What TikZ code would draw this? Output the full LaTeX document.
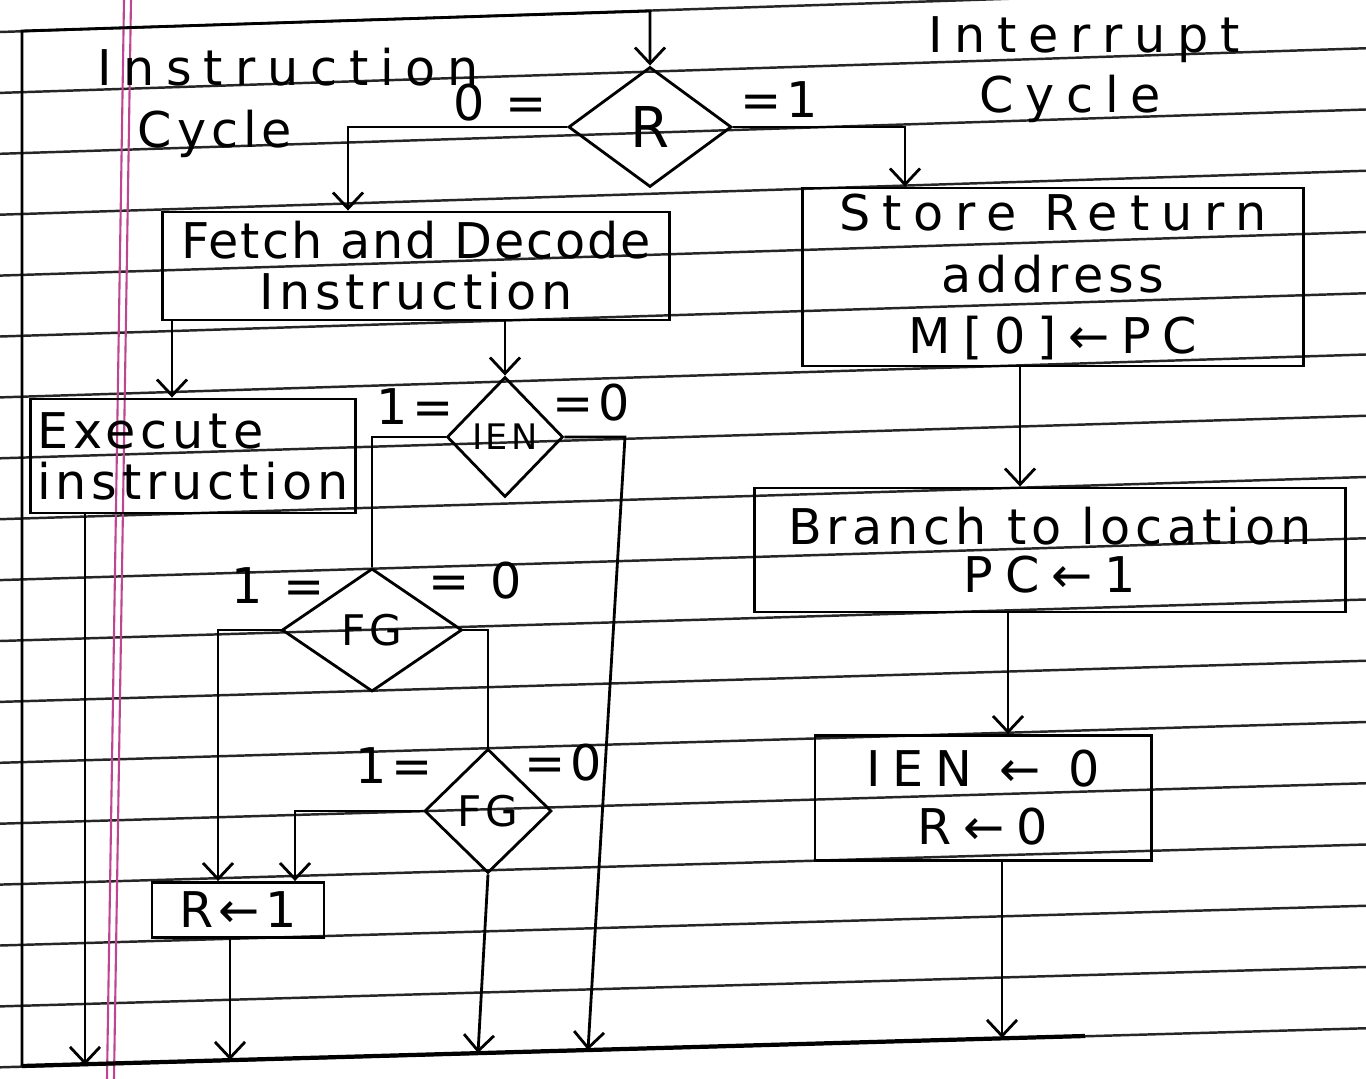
\documentclass[tikz,border=0pt]{standalone}
\usepackage{fontspec}
\usetikzlibrary{shapes.geometric,arrows.meta}
\newfontfamily\hand[LetterSpace=10]{DejaVu Sans}
\newfontfamily\handw[LetterSpace=24]{DejaVu Sans}
\newfontfamily\handn[LetterSpace=4]{DejaVu Sans}
\definecolor{margin}{RGB}{190,70,145}
\begin{document}
\begin{tikzpicture}[x=0.01cm,y=-0.01cm,
  rule/.style={black!85,line width=0.7pt},
  pen/.style={line width=0.8pt},
  arr/.style={pen,-{Straight Barb[length=1.6mm,width=3mm]}},
  box/.style={draw,pen,rectangle,align=center,inner sep=1pt,font=\hand\fontsize{14}{17.5}\selectfont},
  dec/.style={draw,pen,diamond,inner sep=0pt,font=\hand\fontsize{12}{14}\selectfont},
  lbl/.style={inner sep=0pt,anchor=base,font=\hand\fontsize{14}{17}\selectfont},
  wide/.style={font=\handw\fontsize{14}{17}\selectfont}]
\useasboundingbox (0,0) rectangle (1366,1079);
\fill[white] (0,0) rectangle (1366,1079);
\foreach \i in {0,...,17}
  \draw[rule] (0,{32+60.9*\i}) -- (1366,{32+60.9*\i-45+0.35*\i});
\draw[margin,line width=0.6pt] (124,0) -- (107,1079);
\draw[margin,line width=0.6pt] (131,0) -- (114,1079);

\node[lbl,wide] (tinstr) at (288,86) {Instruction};
\node[lbl] (tcycl) at (215,148) {Cycle};
\node[lbl,wide] (tintr) at (1084,53) {Interrupt};
\node[lbl,wide] (tcycr) at (1070,113) {Cycle};

\node[dec,minimum width=1.63cm,minimum height=1.2cm,font=\hand\fontsize{16}{18}\selectfont] (R) at (650,127) {R};
\node[dec,minimum width=1.16cm,minimum height=1.2cm,font=\hand\fontsize{10}{12}\selectfont] (ien) at (505,437) {IEN};
\node[dec,minimum width=1.8cm,minimum height=1.23cm] (fg1) at (372,630) {FG};
\node[dec,minimum width=1.27cm,minimum height=1.24cm] (fg2) at (488,811) {FG};

\node[box,minimum width=5.07cm,minimum height=1.08cm] (fetch) at (416,266) {{\handn Fetch and Decode}\\[-3pt]Instruction};
\node[box,minimum width=5.0cm,minimum height=1.78cm,font=\handw\fontsize{14}{17.5}\selectfont] (store) at (1053,277) {Store Return\\{\hand address}\\M[0]←PC};
\node[box,minimum width=3.25cm,minimum height=1.14cm,align=left] (exec) at (193,456) {Execute\\[-3pt]instruction};
\node[box,minimum width=5.9cm,minimum height=1.24cm] (branch) at (1050,550) {Branch to location\\[-4pt]{\handw PC←1}};
\node[box,minimum width=3.36cm,minimum height=1.25cm,font=\handw\fontsize{14}{17.5}\selectfont] (ienbox) at (983,798) {IEN ← 0\\[-1pt]R←0};
\node[box,minimum width=1.72cm,minimum height=0.55cm] (rset) at (238,910) {R←1};

\node[lbl] (r0) at (500,121) {0 =};
\node[lbl] (r1) at (779,118) {=1};
\node[lbl] (i1) at (415,425) {1=};
\node[lbl] (i0) at (591,420) {=0};
\node[lbl] (f1a) at (278,603) {1 =};
\node[lbl] (f1b) at (475,598) {= 0};
\node[lbl] (f2a) at (394,783) {1=};
\node[lbl] (f2b) at (563,780) {=0};

\coordinate (lpB) at (22,1066);
\coordinate (lpT) at (22,31);
\coordinate (lpR) at (650,11);
\coordinate (cR) at (1085,1036);
\coordinate (c1) at (85,1065);
\coordinate (c2) at (230,1060);
\coordinate (c3) at (478,1053);
\coordinate (c4) at (588,1050);
\coordinate (c5) at (1002,1038);
\coordinate (rl) at (348,0);
\coordinate (rr) at (905,0);
\coordinate (fx) at (172,0);
\coordinate (sx) at (1020,0);
\coordinate (bx) at (1008,0);
\coordinate (ir) at (625,0);
\coordinate (gl) at (218,0);
\coordinate (gm) at (295,0);

\draw[pen,line width=1.2pt] (lpB) -- (cR);
\draw[arr] (lpB) -- (lpT) -- (lpR) -- (R.north);
\draw[arr] (R.west) -| (rl |- fetch.north);
\draw[arr] (R.east) -| (rr |- store.north);
\draw[arr] (fetch.south -| fx) -- (exec.north -| fx);
\draw[arr] (fetch.south -| ien.north) -- (ien.north);
\draw[arr] (exec.south -| c1) -- (c1);
\draw[pen] (ien.west) -| (fg1.north);
\draw[arr] (ien.east) -- (ien.east -| ir) -- (c4);
\draw[arr] (fg1.west) -| (gl |- rset.north);
\draw[pen] (fg1.east) -| (fg2.north);
\draw[arr] (fg2.west) -| (gm |- rset.north);
\draw[arr] (fg2.south) -- (c3);
\draw[arr] (rset.south -| c2) -- (c2);
\draw[arr] (store.south -| sx) -- (branch.north -| sx);
\draw[arr] (branch.south -| bx) -- (ienbox.north -| bx);
\draw[arr] (ienbox.south -| c5) -- (c5);
\end{tikzpicture}
\end{document}
